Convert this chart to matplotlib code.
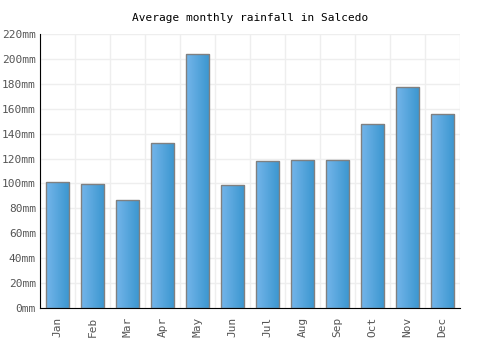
import matplotlib
matplotlib.use("Agg")
import matplotlib.pyplot as plt
import numpy as np
from matplotlib.colors import LinearSegmentedColormap

months = ["Jan", "Feb", "Mar", "Apr", "May", "Jun",
          "Jul", "Aug", "Sep", "Oct", "Nov", "Dec"]
rainfall = [101, 99.3, 86.5, 132.2, 203.7, 98.5,
            117.8, 118.6, 118.6, 147.5, 177.2, 155.5]
yticks = [0, 20, 40, 60, 80, 100, 120, 140, 160, 180, 200, 220]

plt.rcParams['font.family'] = ['DejaVu Sans Mono']

fig = plt.figure(figsize=(5, 3.5), dpi=100)
ax = fig.add_axes([40/500, 1 - 308/350, 420/500, 274/350])

x = np.arange(len(months))
bars = ax.bar(x, rainfall, width=0.68, color="none", edgecolor="#808080",
              linewidth=1.0, zorder=3)

cmap = LinearSegmentedColormap.from_list("bl", ["#74b5ea", "#3a96cf"])
grad = np.linspace(0, 1, 64).reshape(1, -1)
for b in bars:
    x0, y0 = b.get_x(), b.get_y()
    w, h = b.get_width(), b.get_height()
    im = ax.imshow(grad, cmap=cmap, aspect="auto", extent=[x0, x0 + w, y0, y0 + h],
                   zorder=2)
    im.set_clip_path(b)

ax.set_xlim(-0.5, len(months) - 0.5)
ax.set_ylim(0, 220)
ax.set_xticks(x)
ax.set_xticklabels(months, rotation=90, fontsize=8, color="#555555")
ax.set_yticks(yticks)
ax.set_yticklabels([f"{v}mm" for v in yticks], fontsize=8, color="#555555")
ax.set_xticks(np.arange(len(months) + 1) - 0.5, minor=True)
ax.tick_params(axis="x", which="both", length=0, pad=6)
ax.tick_params(axis="y", length=0, pad=3)

ax.grid(False)
ax.grid(True, which="minor", axis="x", color="#eeeeee", linewidth=1, zorder=0)
ax.grid(True, which="major", axis="y", color="#eeeeee", linewidth=1, zorder=0)

for s in ["top", "right"]:
    ax.spines[s].set_visible(False)
ax.spines["left"].set_color("black")
ax.spines["bottom"].set_color("black")

fig.text(0.5, 1 - 18/350, "Average monthly rainfall in Salcedo", ha="center",
         va="center", fontsize=8, color="black")

fig.savefig("out.png", dpi=100)
